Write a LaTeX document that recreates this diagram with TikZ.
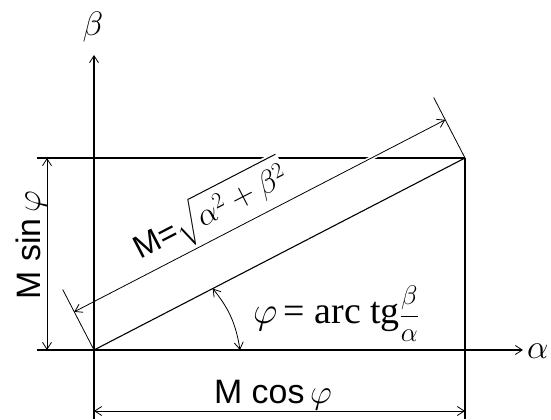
\RequirePackage{fix-cm}
\documentclass[tikz,border=0pt]{standalone}
\usepackage{amsmath}
\usepackage{fontspec}
\setmainfont{Liberation Sans}
\newfontfamily\serfont{Liberation Serif}
\usetikzlibrary{arrows.meta,calc}

\begin{document}
\begin{tikzpicture}[
  x=1bp, y=1bp,
  barb/.tip={Straight Barb[length=7bp,width=9bp,line width=0.8bp]},
  axis/.style={line width=1.7bp},
  thin/.style={line width=0.8bp},
  dim/.style={thin, barb-barb},
  big/.style={font=\fontsize{34}{36}\selectfont, inner sep=1bp}
]
\useasboundingbox (0,0) rectangle (551,419);

% corner points
\coordinate (O) at (94,69);
\coordinate (P) at (465,261);
\coordinate (btop) at (94,364);
\coordinate (bbot) at (94,0);
\coordinate (aleft) at (37,69);
\coordinate (aright) at (523,69);
\coordinate (tleft) at (37,261);
\coordinate (rbot) at (465,0);

% dimension points
\coordinate (Od) at ($(O)!43bp!90:(P)$);
\coordinate (Pd) at ($(P)!43bp!-90:(O)$);
\coordinate (Oe) at ($(O)!68bp!90:(P)$);
\coordinate (Pe) at ($(P)!68bp!-90:(O)$);
\coordinate (sl) at (47,69);
\coordinate (sh) at (47,261);
\coordinate (cl) at (94,8);
\coordinate (cr) at (465,8);
\coordinate (a1) at (240,69);
\coordinate (a2) at ($(O)!0.32!(P)$);

\draw[axis] (tleft) -- (P);
\draw[dim, preaction={draw=white, line width=4bp, arrows=-}] (Od) --
  node[pos=0.40, sloped, above, fill=white, inner sep=1bp, yshift=2bp,
       font=\fontsize{32}{34}\selectfont] (mlbl) {M=$\sqrt{\alpha^2+\beta^2}$} (Pd);

% axes and frame
\draw[axis, -barb] (bbot) -- (btop);
\draw[axis, -barb] (aleft) -- (aright);
\draw[axis] (rbot) -- (P);
\draw[thin, line width=1.1bp] (O) -- (P);
\draw[thin] (O) -- (Oe);
\draw[thin] (P) -- (Pe);

% dimensions
\draw[dim] (sl) -- (sh);
\draw[dim] (cl) -- (cr);
\draw[dim] (a1) to[bend right=15] (a2);

% labels
\node[big] (blbl) at (93,392) {$\beta$};
\node[big, anchor=west] (albl) at (526,68) {$\alpha$};
\node[big, rotate=90, anchor=base] (msin) at (40,174) {M sin\,$\varphi$};
\node[big, anchor=base] (mcos) at (273,16) {M cos\,$\varphi$};
\node[anchor=base west, inner sep=0pt, font=\fontsize{38}{40}\selectfont] (phi) at (253,96)
  {$\varphi$\,{\serfont = arc tg}{\fontsize{27}{29}\selectfont$\dfrac{\beta}{\alpha}$}};
\end{tikzpicture}
\end{document}
